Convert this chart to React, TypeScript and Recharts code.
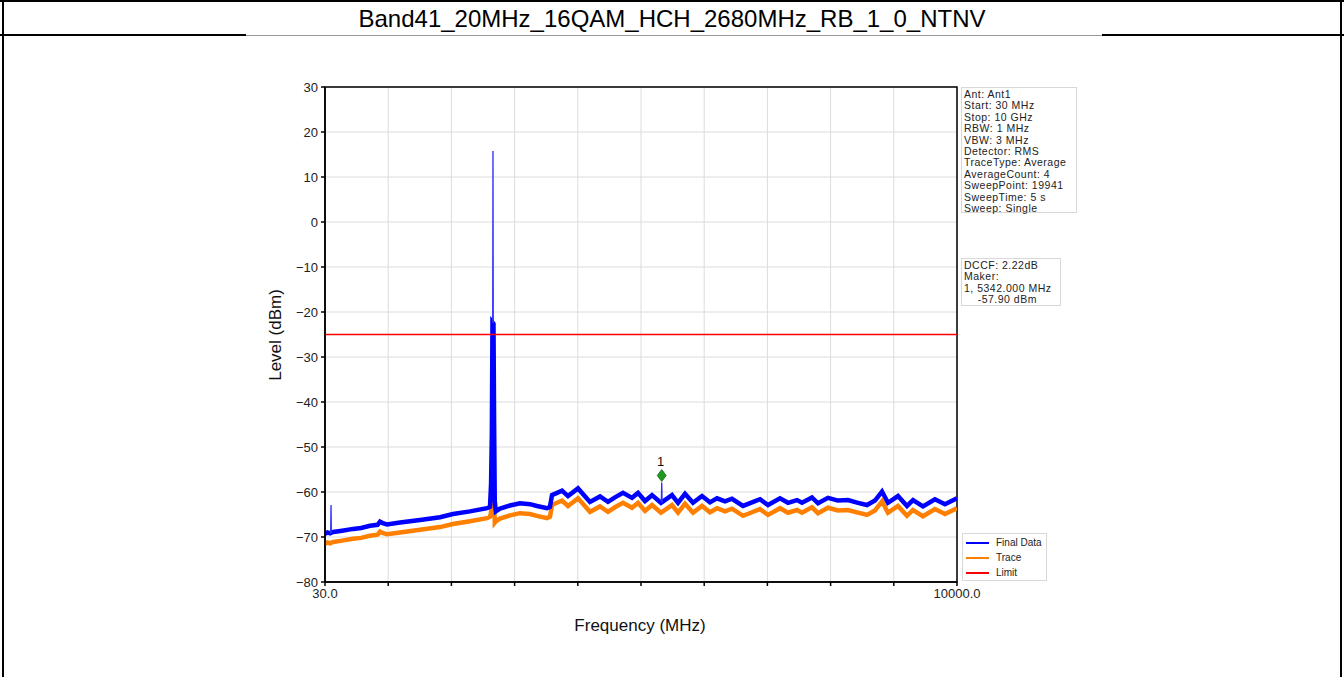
import React from 'react';
import {
  LineChart,
  Line,
  XAxis,
  YAxis,
  CartesianGrid,
  ReferenceArea,
  ReferenceDot
} from 'recharts';

const FONT = '"Liberation Sans", Arial, sans-serif';

// sweep points (MHz), Final Data and Trace levels (dBm)
const freqMHz = [
  30, 70, 110, 160, 300, 472, 600, 740, 860, 898,
  940, 1008, 1213, 1529, 1844, 2049, 2317, 2586, 2633, 2650,
  2662, 2672, 2688, 2698, 2708, 2725, 2791, 2949, 3106, 3264,
  3374, 3532, 3579, 3611, 3769, 3863, 4021, 4210, 4368, 4494,
  4604, 4731, 4873, 4968, 5078, 5189, 5330, 5504, 5599, 5709,
  5835, 5977, 6103, 6214, 6340, 6450, 6624, 6766, 6892, 7018,
  7208, 7334, 7476, 7555, 7712, 7807, 7965, 8122, 8280, 8438,
  8580, 8706, 8817, 8911, 9069, 9211, 9306, 9463, 9652, 9810,
  10000
];

const finalData = [
  -69.3, -69.0, -69.2, -68.9, -68.6, -68.2, -68.0, -67.5, -67.3, -66.6,
  -66.9, -67.2, -66.8, -66.2, -65.6, -64.9, -64.3, -63.6, -63.3, -58.0,
  -47.0, -22.3, -22.6, -45.0, -62.0, -64.3, -63.7, -63.0, -62.5, -62.7,
  -63.1, -63.6, -63.3, -60.7, -59.7, -60.9, -59.2, -62.2, -61.0, -62.2,
  -61.2, -60.2, -61.3, -60.2, -62.0, -60.7, -62.4, -60.7, -62.4, -60.4,
  -62.4, -60.9, -62.3, -61.4, -62.1, -61.5, -63.1, -62.3, -61.6, -62.9,
  -61.4, -62.4, -61.8, -62.4, -61.2, -62.5, -61.3, -61.9, -61.8, -62.4,
  -62.9, -61.9, -59.9, -62.4, -60.9, -63.1, -61.8, -63.2, -61.6, -62.7,
  -61.4
];

const traceData = [
  -71.5, -71.2, -71.4, -71.1, -70.8, -70.4, -70.2, -69.7, -69.5, -68.8,
  -69.1, -69.4, -69.0, -68.4, -67.8, -67.1, -66.5, -65.8, -65.5, -64.5,
  -60.0, -50.0, -52.0, -62.0, -66.8, -66.5, -65.9, -65.2, -64.7, -64.9,
  -65.3, -65.8, -65.5, -62.9, -61.9, -63.1, -61.4, -64.4, -63.2, -64.4,
  -63.4, -62.4, -63.5, -62.4, -64.2, -62.9, -64.6, -62.9, -64.6, -62.6,
  -64.6, -63.1, -64.5, -63.6, -64.3, -63.7, -65.3, -64.5, -63.8, -65.1,
  -63.6, -64.6, -64.0, -64.6, -63.4, -64.7, -63.5, -64.1, -64.0, -64.6,
  -65.1, -64.1, -62.1, -64.6, -63.1, -65.3, -64.0, -65.4, -63.8, -64.9,
  -63.6
];

// single-sample peaks of Final Data (drawn thin)
const peakFreq = [120, 125, 130, 1400, 2676, 2680, 2684, 4000, 5336, 5342, 5348];
const peakLevel = [-69.2, -62.9, -69.0, null, -22.4, 15.8, -22.5, null, -62.4, -57.9, -62.4];

const limitFreq = [30, 10000];
const limitLevel = [-25, -25];

const xTicks = [30, 1027, 2024, 3021, 4018, 5015, 6012, 7009, 8006, 9003, 10000];
const xTickLabels = ['30.0', '', '', '', '', '', '', '', '', '', '10000.0'];
const yTicks = [-80, -70, -60, -50, -40, -30, -20, -10, 0, 10, 20, 30];

const markerFreq = 5342;
const markerLevel = -57.9;

const infoLines = [
  'Ant: Ant1',
  'Start: 30 MHz',
  'Stop: 10 GHz',
  'RBW: 1 MHz',
  'VBW: 3 MHz',
  'Detector: RMS',
  'TraceType: Average',
  'AverageCount: 4',
  'SweepPoint: 19941',
  'SweepTime: 5 s',
  'Sweep: Single'
];
const markerLines = ['DCCF: 2.22dB', 'Maker:', '1, 5342.000 MHz', '    -57.90 dBm'];

const mainRows = freqMHz.map((f, i) => ({ freq: f, final: finalData[i], trace: traceData[i] }));
const peakRows = peakFreq.map((f, i) => ({ freq: f, v: peakLevel[i] }));
const limitRows = limitFreq.map((f, i) => ({ freq: f, v: limitLevel[i] }));

const legendItems = [
  { name: 'Final Data', color: '#0000ff' },
  { name: 'Trace', color: '#ff8000' },
  { name: 'Limit', color: '#ff0000' }
];

const fmtY = (v: number) => (v < 0 ? '\u2212' + Math.abs(v) : String(v));

const MarkerShape = (props: any) => {
  const { cx, cy } = props;
  const dy = cy - 7;
  return (
    <g>
      <path d={`M${cx},${dy - 6} L${cx + 4.5},${dy} L${cx},${dy + 6} L${cx - 4.5},${dy} Z`} fill="#1f9a1f" stroke="#157015" strokeWidth={0.8} />
      <text x={cx - 1} y={dy - 10} textAnchor="middle" fontSize={13} fontFamily={FONT} fill="#111">1</text>
    </g>
  );
};

const boxText = {
  fontFamily: FONT,
  fontSize: 10.5,
  lineHeight: '11.4px',
  letterSpacing: '0.5px',
  color: '#222'
};

export default function App() {
  return (
    <div style={{ position: 'absolute', left: 0, top: 0, width: 1344, height: 677, background: '#fff', overflow: 'hidden' }}>
      {/* table frame */}
      <div style={{ position: 'absolute', left: 0, top: 0, width: 1344, height: 2, background: '#000' }} />
      <div style={{ position: 'absolute', left: 2, top: 0, width: 2, height: 677, background: '#000' }} />
      <div style={{ position: 'absolute', left: 1340, top: 0, width: 2, height: 677, background: '#000' }} />
      <div style={{ position: 'absolute', left: 0, top: 34, width: 246, height: 2, background: '#000' }} />
      <div style={{ position: 'absolute', left: 246, top: 35, width: 856, height: 1, background: '#999' }} />
      <div style={{ position: 'absolute', left: 1102, top: 34, width: 242, height: 2, background: '#000' }} />
      <div style={{ position: 'absolute', left: 0, top: 19, width: 1344, transform: 'translateY(-50%)', textAlign: 'center', fontFamily: FONT, fontSize: 24, color: '#000' }}>
        Band41_20MHz_16QAM_HCH_2680MHz_RB_1_0_NTNV
      </div>

      <div style={{ position: 'absolute', left: 0, top: 0 }}>
        <LineChart width={1344} height={677} margin={{ top: 87, right: 387, left: 285, bottom: 65 }}>
          <CartesianGrid stroke="#dcdcdc" strokeWidth={1} />
          <XAxis
            dataKey="freq"
            type="number"
            domain={[30, 10000]}
            ticks={xTicks}
            tickFormatter={(v: number) => xTickLabels[xTicks.indexOf(v)] ?? ''}
            interval={0}
            height={30}
            tickSize={4}
            tickMargin={3}
            stroke="#000"
            strokeWidth={1.5}
            tick={{ fontSize: 13, fontFamily: FONT, fill: '#222' }}
            allowDataOverflow
          />
          <YAxis
            type="number"
            domain={[-80, 30]}
            ticks={yTicks}
            tickFormatter={fmtY}
            interval={0}
            width={40}
            tickSize={4}
            tickMargin={3}
            stroke="#000"
            strokeWidth={1.5}
            tick={{ fontSize: 13, fontFamily: FONT, fill: '#222' }}
            allowDataOverflow
          />
          <ReferenceArea x1={30} x2={10000} y1={-80} y2={30} fill="none" stroke="#000" strokeWidth={1.5} />
          <Line data={mainRows} dataKey="trace" name="Trace" stroke="#ff8000" strokeWidth={4.5} dot={false} isAnimationActive={false} />
          <Line data={mainRows} dataKey="final" name="Final Data" stroke="#0000ff" strokeWidth={4.5} dot={false} isAnimationActive={false} />
          <Line data={peakRows} dataKey="v" name="peaks" stroke="#2a2aff" strokeWidth={1.3} dot={false} isAnimationActive={false} />
          <Line data={limitRows} dataKey="v" name="Limit" stroke="#ff0000" strokeWidth={1.3} dot={false} isAnimationActive={false} />
          <ReferenceDot x={markerFreq} y={markerLevel} r={4} shape={MarkerShape} />
        </LineChart>
      </div>

      {/* axis titles */}
      <div style={{ position: 'absolute', left: 276, top: 335, transform: 'translate(-50%, -50%) rotate(-90deg)', fontFamily: FONT, fontSize: 17, color: '#111', whiteSpace: 'nowrap' }}>
        Level (dBm)
      </div>
      <div style={{ position: 'absolute', left: 640, top: 626, transform: 'translate(-50%, -50%)', fontFamily: FONT, fontSize: 17, color: '#111', whiteSpace: 'nowrap' }}>
        Frequency (MHz)
      </div>

      {/* measurement info */}
      <div style={{ position: 'absolute', left: 961, top: 87, width: 116, height: 126, boxSizing: 'border-box', border: '1px solid #d8d8d8', padding: '1px 0 0 2px', whiteSpace: 'nowrap', ...boxText }}>
        {infoLines.map((l) => <div key={l}>{l}</div>)}
      </div>
      <div style={{ position: 'absolute', left: 961, top: 258, width: 100, height: 48, boxSizing: 'border-box', border: '1px solid #d8d8d8', padding: '1px 0 0 2px', whiteSpace: 'pre', ...boxText }}>
        {markerLines.map((l) => <div key={l}>{l}</div>)}
      </div>

      {/* legend */}
      <div style={{ position: 'absolute', left: 962, top: 533, width: 85, height: 48, boxSizing: 'border-box', border: '1px solid #d8d8d8', background: '#fff', paddingTop: 1 }}>
        {legendItems.map((it) => (
          <div key={it.name} style={{ display: 'flex', alignItems: 'center', height: 15, fontFamily: FONT, fontSize: 10, color: '#222' }}>
            <span style={{ display: 'inline-block', width: 23, height: 2, background: it.color, marginLeft: 3, marginRight: 7 }} />
            {it.name}
          </div>
        ))}
      </div>
    </div>
  );
}
